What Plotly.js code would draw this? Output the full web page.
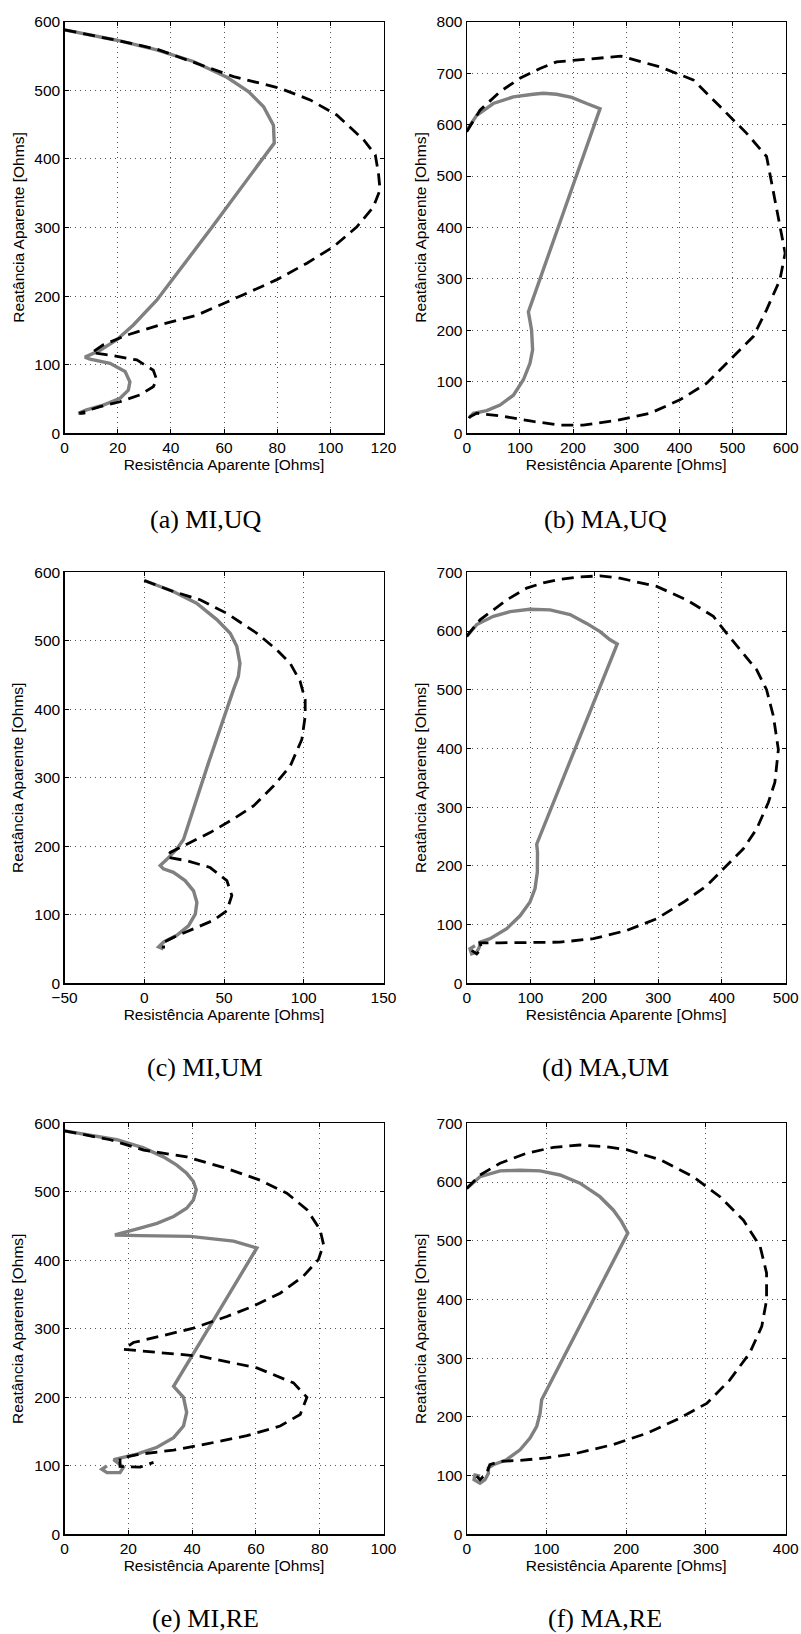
<!DOCTYPE html>
<html>
<head>
<meta charset="utf-8">
<script src="https://cdn.plot.ly/plotly-3.0.1.min.js"></script>
<style>html,body{margin:0;padding:0;background:#fff;}#chart{width:801px;height:1634px;}</style>
</head>
<body>
<div id="chart"></div>
<script>
// ---- Data ----
const captions = ["(a) MI,UQ", "(b) MA,UQ", "(c) MI,UM", "(d) MA,UM", "(e) MI,RE", "(f) MA,RE"];
const xTitle = "Resistência Aparente [Ohms]";
const yTitle = "Reatância Aparente [Ohms]";

// (a) MI,UQ
const aSolidX = [0, 19.7, 34.7, 48.5, 61.1, 69.2, 74.9, 78.6, 78.9, 55.4, 34.7, 25.9, 19.6, 13.4, 7.7, 9.6, 17.1, 22.8, 24.6, 24, 20.9, 14.6, 8.3, 5.2, 7.5];
const aSolidY = [588, 573, 559, 542, 519, 498, 476, 449, 423, 300, 194, 158, 136, 121, 111, 108, 102, 90, 75, 63, 51, 41, 34, 29, 30];
const aDashX = [0, 19.7, 34.7, 51, 63.6, 81, 92.4, 102.4, 112.5, 116.9, 118.1, 118.7, 116.2, 110, 101.2, 91.2, 79.9, 67.3, 49.7, 35.9, 23.4, 14.6, 10.2, 17.1, 27.2, 33.4, 34.7, 33.4, 28.4, 20.9, 13.4, 7.1, 5.6, 8];
const aDashY = [588, 573, 560, 537, 520, 503, 486, 464, 428, 406, 379, 355, 330, 301, 272, 248, 224, 202, 172, 158, 143, 129, 117.5, 114, 107, 92, 78, 68, 56, 46, 39, 31, 29, 30];

// (b) MA,UQ
const bSolidX = [0, 18.8, 50, 87.8, 125, 144, 169, 197.5, 225.7, 250.8, 172, 116, 122, 124, 119, 106.6, 87.8, 62.7, 37.6, 12.5, 6];
const bSolidY = [589, 618, 641, 654, 659, 661, 659, 653, 641, 631, 400, 236, 201, 162, 136, 104, 74, 55, 44, 39, 32];
const bDashX = [0, 25, 62.7, 100, 138, 169, 225.7, 290, 363.6, 426, 476.5, 526.6, 564, 577, 589, 599, 589, 564, 539, 495, 451, 401, 345, 282, 219, 175.5, 125, 62.7, 18.8, 6, 3];
const bDashY = [586, 628, 664, 690, 709, 722, 727, 733, 712, 687, 635, 583, 538, 466, 402, 350, 298, 240, 188, 142, 97, 65, 39, 25, 16, 16, 23, 34, 39, 32, 27];

// (c) MI,UM
const cSolidX = [0, 18.2, 32.8, 45.5, 53.9, 58, 60, 59, 56, 40, 24.6, 20.4, 14.2, 10, 12, 18.3, 25.6, 30.9, 33, 32, 27.7, 20.4, 12, 9, 12];
const cSolidY = [588, 572, 555, 531, 511, 492, 467, 448, 429, 320, 210, 196, 181, 172, 167, 162, 150, 135, 118, 101, 84, 70, 60, 53, 50];
const cDashX = [0, 18.2, 35, 51.8, 70.6, 83, 91.5, 97.7, 100.9, 100.9, 98.8, 91.5, 81, 68.5, 56, 41.3, 26.7, 16.3, 14.2, 26.7, 41.3, 51.8, 54.9, 51.8, 43.4, 30.9, 18.3, 12, 11, 13];
const cDashY = [588, 572, 560, 540, 511, 487, 467, 441, 414, 390, 356, 317, 288, 259, 240, 220, 203, 191, 184, 179, 169, 150, 128, 106, 92, 80, 67, 60, 53, 53];

// (d) MA,UM
const dSolidX = [0, 15.7, 41.8, 67.9, 99, 130.6, 162, 188, 209, 224.7, 236, 170, 109.7, 111, 110.7, 107, 99, 83.6, 62.7, 36.6, 20.9, 19.9, 15.7, 7.8, 5.2, 13];
const dSolidY = [591, 611, 625, 633, 637, 636, 628, 613, 599, 585, 578, 400, 237, 223, 189, 161, 138, 115, 93, 76, 70, 62, 53, 50, 59, 64];
const dDashX = [0, 20.9, 62.7, 94, 120, 146, 177.6, 209, 240, 297.8, 344.8, 386.6, 407.5, 433.6, 454.5, 470, 480.7, 488.5, 483, 472.8, 454.5, 433.6, 407.5, 376, 339.6, 297.8, 250.8, 198.5, 146, 94, 52, 20.9, 23.5, 15.7, 7.8];
const dDashY = [591, 619, 653, 673, 682, 688, 692, 694, 690, 676, 653, 625, 596, 562, 534, 500, 455, 398, 342, 308, 263, 229, 200, 166, 138, 110, 90, 76, 70, 69, 69, 69, 59, 50, 56];

// (e) MI,RE
const eSolidX = [0, 8, 16.4, 24.8, 31, 35.2, 38.3, 40.4, 41.3, 40.4, 38.3, 34.2, 29, 23.7, 19.5, 15.8, 23.7, 29, 39.4, 53, 60.3, 47, 34.2, 37.3, 38.3, 37.3, 34.2, 29, 22.7, 15.4, 16.4, 18.5, 17.4, 13.3, 11.7, 13.3];
const eSolidY = [589, 583, 576, 564, 551, 539, 527, 515, 503, 488, 476, 464, 454, 447, 442, 437, 436, 436, 435, 428, 418, 315, 216, 200, 178, 158, 141, 127, 117, 109, 105, 98, 90, 90, 95, 100];
const eDashX = [0, 14.3, 24.8, 38.3, 50.9, 61.3, 69.7, 76, 80.1, 81.2, 79.6, 74.9, 67.6, 59.2, 50.9, 40.4, 29.9, 21.6, 18.5, 29.9, 42.5, 60.3, 71.8, 76, 73.9, 67.6, 57.2, 44.6, 34.2, 23.7, 17.4, 17.4, 23.7, 27.9];
const eDashY = [589, 576, 561, 551, 534, 517, 498, 474, 445, 423, 401, 377, 352, 333, 318, 301, 289, 280, 270, 265, 260, 243, 221, 200, 175, 158, 144, 132, 123, 117, 111, 99, 98, 105];

// (f) MA,RE
const fSolidX = [0, 16.7, 41.8, 66.9, 92, 117, 142, 167, 184, 194, 202, 148, 94, 92, 87.8, 79.4, 66.9, 50, 33.4, 27.2, 27.2, 23, 16.7, 9.2, 10.4, 16.7];
const fSolidY = [589, 609, 619, 620, 619, 612, 598, 575, 552, 533, 513, 370, 229, 206, 184, 164, 144, 127, 118.5, 113, 104, 93, 87, 93, 101, 99];
const fDashX = [0, 16.7, 41.8, 75, 108.7, 142, 175.5, 200.6, 242.4, 284, 317.6, 347, 368, 376, 376, 370, 355, 330, 301, 263, 225.7, 184, 138, 100, 67, 41.8, 29, 25, 16.7, 12.5];
const fDashY = [589, 612, 632, 649, 659, 663, 660, 655, 638, 609, 575, 535, 490, 445, 399, 354, 309, 263, 223, 195, 172, 153, 138, 130, 126, 124, 118.5, 104, 93, 99];

const xRanges = [[0, 120], [0, 600], [-50, 150], [0, 500], [0, 100], [0, 400]];
const yRanges = [[0, 600], [0, 800], [0, 600], [0, 700], [0, 600], [0, 700]];
const xDtick = [20, 100, 50, 100, 20, 100];
const yDtick = [100, 100, 100, 100, 100, 100];

const solids = [[aSolidX, aSolidY], [bSolidX, bSolidY], [cSolidX, cSolidY], [dSolidX, dSolidY], [eSolidX, eSolidY], [fSolidX, fSolidY]];
const dashes = [[aDashX, aDashY], [bDashX, bDashY], [cDashX, cDashY], [dDashX, dDashY], [eDashX, eDashY], [fDashX, fDashY]];

// ---- Layout geometry (pixels) ----
const W = 801, H = 1634;
const colX = [[64.5, 383.5], [466.7, 785.7]];
const rowY = [[21.7, 433.3], [572.3, 983.3], [1123.3, 1534.3]];
const capX = [205, 605];
const capY = [519, 1067, 1618];

const traces = [];
const layout = {
  width: W, height: H,
  margin: {l: 0, r: 0, t: 0, b: 0},
  paper_bgcolor: '#fff', plot_bgcolor: '#fff',
  showlegend: false,
  font: {family: 'Liberation Sans, Arial, sans-serif', size: 15.5, color: '#000'},
  annotations: []
};

for (let i = 0; i < 6; i++) {
  const col = i % 2, row = Math.floor(i / 2);
  const sfx = i === 0 ? '' : String(i + 1);
  const xa = 'x' + sfx, ya = 'y' + sfx;
  traces.push({x: solids[i][0], y: solids[i][1], xaxis: xa, yaxis: ya, type: 'scatter', mode: 'lines',
    line: {color: '#808080', width: 3.4}, hoverinfo: 'skip'});
  traces.push({x: dashes[i][0], y: dashes[i][1], xaxis: xa, yaxis: ya, type: 'scatter', mode: 'lines',
    line: {color: '#000', width: 2.8, dash: '12px,7px'}, hoverinfo: 'skip'});
  const common = {
    showline: true, linecolor: '#000', linewidth: 1.2, mirror: 'allticks',
    ticks: 'inside', ticklen: 4, tickwidth: 1, tickcolor: '#000',
    showgrid: true, gridcolor: '#555', gridwidth: 1, griddash: '1px,4px',
    zeroline: false, fixedrange: true,
    tickfont: {family: 'Liberation Sans, Arial, sans-serif', size: 15.5, color: '#000'}
  };
  layout['xaxis' + sfx] = Object.assign({}, common, {
    domain: [colX[col][0] / W, colX[col][1] / W],
    anchor: ya, range: xRanges[i], tick0: 0, dtick: xDtick[i],
    title: {text: xTitle, standoff: 3, font: {size: 15.5, family: 'Liberation Sans, Arial, sans-serif'}}
  });
  layout['yaxis' + sfx] = Object.assign({}, common, {
    domain: [1 - rowY[row][1] / H, 1 - rowY[row][0] / H],
    anchor: xa, range: yRanges[i], tick0: 0, dtick: yDtick[i],
    title: {text: yTitle, standoff: 6, font: {size: 15.5, family: 'Liberation Sans, Arial, sans-serif'}}
  });
  layout.annotations.push({
    text: captions[i], xref: 'paper', yref: 'paper',
    x: capX[col] / W, y: 1 - capY[row] / H, xanchor: 'center', yanchor: 'middle',
    showarrow: false, font: {family: 'Liberation Serif, Times New Roman, serif', size: 26, color: '#000'}
  });
}

Plotly.newPlot('chart', traces, layout, {staticPlot: true, displayModeBar: false});
</script>
</body>
</html>
